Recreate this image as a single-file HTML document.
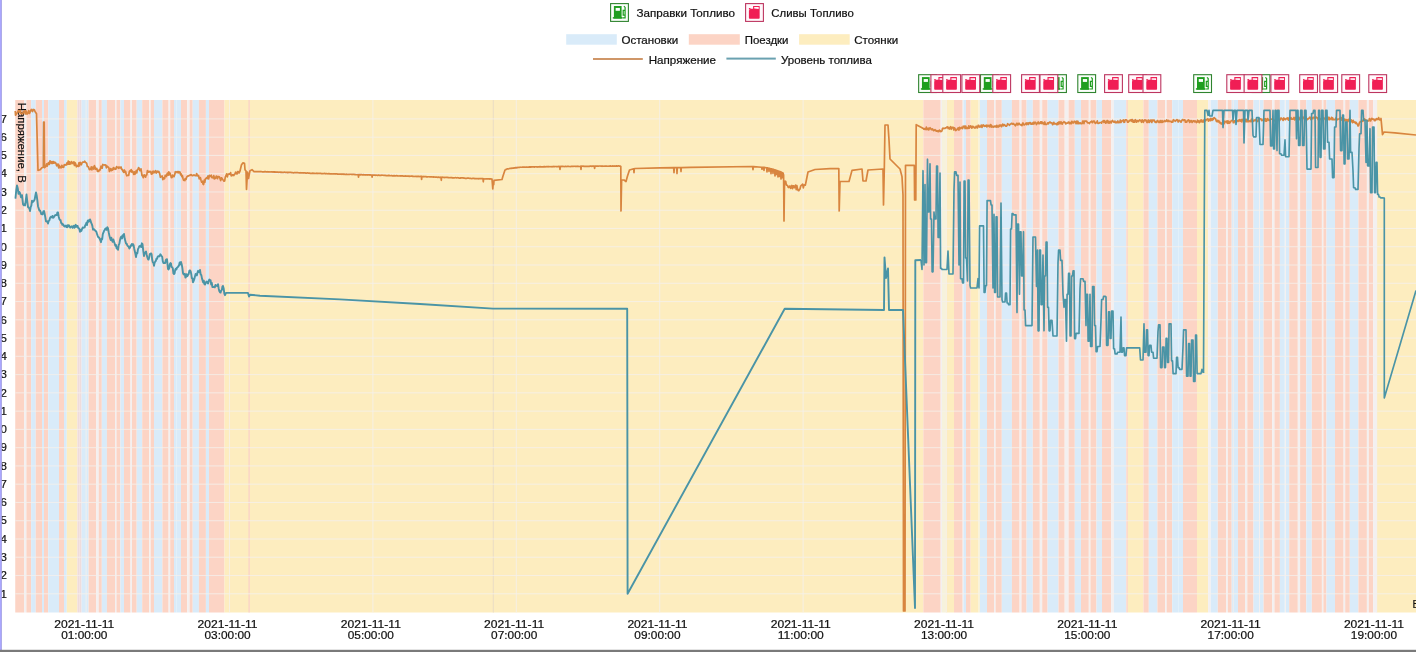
<!DOCTYPE html>
<html><head><meta charset="utf-8"><style>
html,body{margin:0;padding:0;background:#fff;width:1416px;height:652px;overflow:hidden;font-family:"Liberation Sans",sans-serif;}
svg{display:block;will-change:transform;}
text{font-family:"Liberation Sans",sans-serif;fill:#111;stroke:#111;stroke-width:0.2px;}
</style></head><body>
<svg width="1416" height="652" viewBox="0 0 1416 652" font-family="Liberation Sans, sans-serif" fill="#1a1a1a"><rect x="0" y="0" width="1416" height="652" fill="#ffffff"/>
<rect x="15.25" y="100" width="8.85" height="512.5" fill="#fcd4c5"/>
<rect x="24.1" y="100" width="2.3" height="512.5" fill="#f3f0f0"/>
<rect x="26.4" y="100" width="4.7" height="512.5" fill="#fcd4c5"/>
<rect x="31.1" y="100" width="4.65" height="512.5" fill="#d9ebf9"/>
<rect x="35.75" y="100" width="6.25" height="512.5" fill="#fcd4c5"/>
<rect x="42" y="100" width="2" height="512.5" fill="#d9ebf9"/>
<rect x="44" y="100" width="4.2" height="512.5" fill="#fcd4c5"/>
<rect x="48.2" y="100" width="10.8" height="512.5" fill="#d9ebf9"/>
<rect x="59" y="100" width="5" height="512.5" fill="#fcd4c5"/>
<rect x="64" y="100" width="2.8" height="512.5" fill="#d9ebf9"/>
<rect x="66.8" y="100" width="10.6" height="512.5" fill="#fdedbf"/>
<rect x="77.4" y="100" width="1.9" height="512.5" fill="#efdcdc"/>
<rect x="79.3" y="100" width="2.3" height="512.5" fill="#efdcdc"/>
<rect x="81.6" y="100" width="7" height="512.5" fill="#d9ebf9"/>
<rect x="88.6" y="100" width="7.7" height="512.5" fill="#fcd4c5"/>
<rect x="96.3" y="100" width="2.4" height="512.5" fill="#f3f0f0"/>
<rect x="98.7" y="100" width="3.1" height="512.5" fill="#fcd4c5"/>
<rect x="101.8" y="100" width="5.1" height="512.5" fill="#d9ebf9"/>
<rect x="106.9" y="100" width="8.1" height="512.5" fill="#fcd4c5"/>
<rect x="115" y="100" width="1.5" height="512.5" fill="#f3f0f0"/>
<rect x="116.5" y="100" width="3.9" height="512.5" fill="#fcd4c5"/>
<rect x="120.4" y="100" width="3.6" height="512.5" fill="#d9ebf9"/>
<rect x="124" y="100" width="6.5" height="512.5" fill="#fcd4c5"/>
<rect x="130.5" y="100" width="1.5" height="512.5" fill="#f3f0f0"/>
<rect x="132" y="100" width="4.7" height="512.5" fill="#fcd4c5"/>
<rect x="136.7" y="100" width="5.5" height="512.5" fill="#d9ebf9"/>
<rect x="142.2" y="100" width="7" height="512.5" fill="#fcd4c5"/>
<rect x="149.2" y="100" width="1.5" height="512.5" fill="#f3f0f0"/>
<rect x="150.7" y="100" width="3.3" height="512.5" fill="#fcd4c5"/>
<rect x="154" y="100" width="8.4" height="512.5" fill="#d9ebf9"/>
<rect x="162.4" y="100" width="6.2" height="512.5" fill="#fcd4c5"/>
<rect x="168.6" y="100" width="1.6" height="512.5" fill="#f3f0f0"/>
<rect x="170.2" y="100" width="3.8" height="512.5" fill="#fcd4c5"/>
<rect x="174" y="100" width="2.4" height="512.5" fill="#d9ebf9"/>
<rect x="176.4" y="100" width="4.6" height="512.5" fill="#d9ebf9"/>
<rect x="181" y="100" width="6.2" height="512.5" fill="#fcd4c5"/>
<rect x="187.2" y="100" width="2.4" height="512.5" fill="#f3f0f0"/>
<rect x="189.6" y="100" width="3.1" height="512.5" fill="#fcd4c5"/>
<rect x="192.7" y="100" width="6.2" height="512.5" fill="#d9ebf9"/>
<rect x="198.9" y="100" width="7" height="512.5" fill="#fcd4c5"/>
<rect x="205.9" y="100" width="3.1" height="512.5" fill="#d9ebf9"/>
<rect x="209" y="100" width="15.5" height="512.5" fill="#fcd4c5"/>
<rect x="224.5" y="100" width="698.8" height="512.5" fill="#fdedbf"/>
<rect x="923.3" y="100" width="17.4" height="512.5" fill="#fcd4c5"/>
<rect x="940.7" y="100" width="1.3" height="512.5" fill="#f3f0f0"/>
<rect x="942" y="100" width="3.8" height="512.5" fill="#f6f2dc"/>
<rect x="945.8" y="100" width="8.2" height="512.5" fill="#fdedbf"/>
<rect x="954" y="100" width="8.9" height="512.5" fill="#fcd4c5"/>
<rect x="962.4" y="100" width="1" height="512.5" fill="#f3f0f0"/>
<rect x="963.4" y="100" width="2.6" height="512.5" fill="#d9ebf9"/>
<rect x="966" y="100" width="4.7" height="512.5" fill="#fcd4c5"/>
<rect x="970.7" y="100" width="7.9" height="512.5" fill="#fdedbf"/>
<rect x="978.6" y="100" width="1.4" height="512.5" fill="#f6f2dc"/>
<rect x="980" y="100" width="7" height="512.5" fill="#d9ebf9"/>
<rect x="987" y="100" width="7" height="512.5" fill="#fcd4c5"/>
<rect x="994" y="100" width="1.6" height="512.5" fill="#f3f0f0"/>
<rect x="995.6" y="100" width="6.2" height="512.5" fill="#fcd4c5"/>
<rect x="1001.8" y="100" width="10.1" height="512.5" fill="#d9ebf9"/>
<rect x="1011.9" y="100" width="7.7" height="512.5" fill="#fcd4c5"/>
<rect x="1019.6" y="100" width="1.9" height="512.5" fill="#f3f0f0"/>
<rect x="1021.5" y="100" width="5.1" height="512.5" fill="#fcd4c5"/>
<rect x="1026.6" y="100" width="6.2" height="512.5" fill="#d9ebf9"/>
<rect x="1032.8" y="100" width="7" height="512.5" fill="#fcd4c5"/>
<rect x="1039.8" y="100" width="2.4" height="512.5" fill="#f3f0f0"/>
<rect x="1042.2" y="100" width="5.4" height="512.5" fill="#fcd4c5"/>
<rect x="1047.6" y="100" width="10.9" height="512.5" fill="#d9ebf9"/>
<rect x="1058.5" y="100" width="6.2" height="512.5" fill="#fcd4c5"/>
<rect x="1064.7" y="100" width="3.9" height="512.5" fill="#f3f0f0"/>
<rect x="1068.6" y="100" width="6.2" height="512.5" fill="#fcd4c5"/>
<rect x="1074.8" y="100" width="6.2" height="512.5" fill="#d9ebf9"/>
<rect x="1081" y="100" width="7.8" height="512.5" fill="#fcd4c5"/>
<rect x="1088.8" y="100" width="1.5" height="512.5" fill="#f3f0f0"/>
<rect x="1090.3" y="100" width="6.2" height="512.5" fill="#fcd4c5"/>
<rect x="1096.5" y="100" width="5.5" height="512.5" fill="#d9ebf9"/>
<rect x="1102" y="100" width="9.3" height="512.5" fill="#fcd4c5"/>
<rect x="1111.3" y="100" width="2.6" height="512.5" fill="#f3f0f0"/>
<rect x="1113.9" y="100" width="12.4" height="512.5" fill="#d9ebf9"/>
<rect x="1126.3" y="100" width="1.6" height="512.5" fill="#fcd4c5"/>
<rect x="1127.9" y="100" width="15.5" height="512.5" fill="#fdedbf"/>
<rect x="1143.4" y="100" width="5.4" height="512.5" fill="#fcd4c5"/>
<rect x="1148.8" y="100" width="8.6" height="512.5" fill="#d9ebf9"/>
<rect x="1157.4" y="100" width="7.8" height="512.5" fill="#fcd4c5"/>
<rect x="1165.2" y="100" width="1.5" height="512.5" fill="#f3f0f0"/>
<rect x="1166.7" y="100" width="5.5" height="512.5" fill="#fcd4c5"/>
<rect x="1172.2" y="100" width="3.8" height="512.5" fill="#d9ebf9"/>
<rect x="1176" y="100" width="2.4" height="512.5" fill="#d9ebf9"/>
<rect x="1178.4" y="100" width="4.6" height="512.5" fill="#d9ebf9"/>
<rect x="1183" y="100" width="14" height="512.5" fill="#fcd4c5"/>
<rect x="1197" y="100" width="11.1" height="512.5" fill="#fdedbf"/>
<rect x="1208.1" y="100" width="2.7" height="512.5" fill="#f3f0f0"/>
<rect x="1210.8" y="100" width="7" height="512.5" fill="#d9ebf9"/>
<rect x="1217.8" y="100" width="8.5" height="512.5" fill="#fcd4c5"/>
<rect x="1226.3" y="100" width="1.6" height="512.5" fill="#f3f0f0"/>
<rect x="1227.9" y="100" width="3.8" height="512.5" fill="#fcd4c5"/>
<rect x="1231.7" y="100" width="6.3" height="512.5" fill="#d9ebf9"/>
<rect x="1238" y="100" width="7" height="512.5" fill="#fcd4c5"/>
<rect x="1245" y="100" width="2.3" height="512.5" fill="#f3f0f0"/>
<rect x="1247.3" y="100" width="6.2" height="512.5" fill="#fcd4c5"/>
<rect x="1253.5" y="100" width="4.5" height="512.5" fill="#d9ebf9"/>
<rect x="1258" y="100" width="1" height="512.5" fill="#d9ebf9"/>
<rect x="1259" y="100" width="1" height="512.5" fill="#f3f0f0"/>
<rect x="1260" y="100" width="3.6" height="512.5" fill="#d9ebf9"/>
<rect x="1263.6" y="100" width="8.5" height="512.5" fill="#fcd4c5"/>
<rect x="1272.1" y="100" width="2.4" height="512.5" fill="#f3f0f0"/>
<rect x="1274.5" y="100" width="5.4" height="512.5" fill="#fcd4c5"/>
<rect x="1279.9" y="100" width="4.7" height="512.5" fill="#d9ebf9"/>
<rect x="1284.6" y="100" width="0.5" height="512.5" fill="#d9ebf9"/>
<rect x="1285.1" y="100" width="0.9" height="512.5" fill="#f3f0f0"/>
<rect x="1286" y="100" width="3.2" height="512.5" fill="#d9ebf9"/>
<rect x="1289.2" y="100" width="8.6" height="512.5" fill="#fcd4c5"/>
<rect x="1297.8" y="100" width="2.3" height="512.5" fill="#f3f0f0"/>
<rect x="1300.1" y="100" width="6.2" height="512.5" fill="#fcd4c5"/>
<rect x="1306.3" y="100" width="5.5" height="512.5" fill="#d9ebf9"/>
<rect x="1311.8" y="100" width="10.1" height="512.5" fill="#fcd4c5"/>
<rect x="1321.9" y="100" width="1.5" height="512.5" fill="#f3f0f0"/>
<rect x="1323.4" y="100" width="3.1" height="512.5" fill="#fcd4c5"/>
<rect x="1326.5" y="100" width="8.5" height="512.5" fill="#d9ebf9"/>
<rect x="1335" y="100" width="8.6" height="512.5" fill="#fcd4c5"/>
<rect x="1343.6" y="100" width="1.6" height="512.5" fill="#f3f0f0"/>
<rect x="1345.2" y="100" width="4.6" height="512.5" fill="#fcd4c5"/>
<rect x="1349.8" y="100" width="8.6" height="512.5" fill="#d9ebf9"/>
<rect x="1358.4" y="100" width="8.5" height="512.5" fill="#fcd4c5"/>
<rect x="1366.9" y="100" width="1.9" height="512.5" fill="#f3f0f0"/>
<rect x="1368.8" y="100" width="4.3" height="512.5" fill="#fcd4c5"/>
<rect x="1373.1" y="100" width="3.9" height="512.5" fill="#f3f0f0"/>
<rect x="1377" y="100" width="39" height="512.5" fill="#fdedbf"/>
<rect x="248.5" y="100" width="1.2" height="512.5" fill="#f9cfc8"/>
<rect x="492.8" y="100" width="1" height="512.5" fill="#eadcc4"/>
<rect x="15.25" y="593.22" width="1400.75" height="1.1" fill="#f4f0ec" fill-opacity="0.75"/>
<rect x="15.25" y="574.95" width="1400.75" height="1.1" fill="#f4f0ec" fill-opacity="0.75"/>
<rect x="15.25" y="556.69" width="1400.75" height="1.1" fill="#f4f0ec" fill-opacity="0.75"/>
<rect x="15.25" y="538.42" width="1400.75" height="1.1" fill="#f4f0ec" fill-opacity="0.75"/>
<rect x="15.25" y="520.16" width="1400.75" height="1.1" fill="#f4f0ec" fill-opacity="0.75"/>
<rect x="15.25" y="501.9" width="1400.75" height="1.1" fill="#f4f0ec" fill-opacity="0.75"/>
<rect x="15.25" y="483.63" width="1400.75" height="1.1" fill="#f4f0ec" fill-opacity="0.75"/>
<rect x="15.25" y="465.37" width="1400.75" height="1.1" fill="#f4f0ec" fill-opacity="0.75"/>
<rect x="15.25" y="447.1" width="1400.75" height="1.1" fill="#f4f0ec" fill-opacity="0.75"/>
<rect x="15.25" y="428.84" width="1400.75" height="1.1" fill="#f4f0ec" fill-opacity="0.75"/>
<rect x="15.25" y="410.58" width="1400.75" height="1.1" fill="#f4f0ec" fill-opacity="0.75"/>
<rect x="15.25" y="392.31" width="1400.75" height="1.1" fill="#f4f0ec" fill-opacity="0.75"/>
<rect x="15.25" y="374.05" width="1400.75" height="1.1" fill="#f4f0ec" fill-opacity="0.75"/>
<rect x="15.25" y="355.78" width="1400.75" height="1.1" fill="#f4f0ec" fill-opacity="0.75"/>
<rect x="15.25" y="337.52" width="1400.75" height="1.1" fill="#f4f0ec" fill-opacity="0.75"/>
<rect x="15.25" y="319.26" width="1400.75" height="1.1" fill="#f4f0ec" fill-opacity="0.75"/>
<rect x="15.25" y="300.99" width="1400.75" height="1.1" fill="#f4f0ec" fill-opacity="0.75"/>
<rect x="15.25" y="282.73" width="1400.75" height="1.1" fill="#f4f0ec" fill-opacity="0.75"/>
<rect x="15.25" y="264.46" width="1400.75" height="1.1" fill="#f4f0ec" fill-opacity="0.75"/>
<rect x="15.25" y="246.2" width="1400.75" height="1.1" fill="#f4f0ec" fill-opacity="0.75"/>
<rect x="15.25" y="227.94" width="1400.75" height="1.1" fill="#f4f0ec" fill-opacity="0.75"/>
<rect x="15.25" y="209.67" width="1400.75" height="1.1" fill="#f4f0ec" fill-opacity="0.75"/>
<rect x="15.25" y="191.41" width="1400.75" height="1.1" fill="#f4f0ec" fill-opacity="0.75"/>
<rect x="15.25" y="173.14" width="1400.75" height="1.1" fill="#f4f0ec" fill-opacity="0.75"/>
<rect x="15.25" y="154.88" width="1400.75" height="1.1" fill="#f4f0ec" fill-opacity="0.75"/>
<rect x="15.25" y="136.62" width="1400.75" height="1.1" fill="#f4f0ec" fill-opacity="0.75"/>
<rect x="15.25" y="118.35" width="1400.75" height="1.1" fill="#f4f0ec" fill-opacity="0.75"/>
<rect x="85.55" y="100" width="1.1" height="512.5" fill="#f4f0ec" fill-opacity="0.75"/>
<rect x="228.95" y="100" width="1.1" height="512.5" fill="#f4f0ec" fill-opacity="0.75"/>
<rect x="372.35" y="100" width="1.1" height="512.5" fill="#f4f0ec" fill-opacity="0.75"/>
<rect x="515.75" y="100" width="1.1" height="512.5" fill="#f4f0ec" fill-opacity="0.75"/>
<rect x="659.15" y="100" width="1.1" height="512.5" fill="#f4f0ec" fill-opacity="0.75"/>
<rect x="802.55" y="100" width="1.1" height="512.5" fill="#f4f0ec" fill-opacity="0.75"/>
<rect x="945.95" y="100" width="1.1" height="512.5" fill="#f4f0ec" fill-opacity="0.75"/>
<rect x="1089.35" y="100" width="1.1" height="512.5" fill="#f4f0ec" fill-opacity="0.75"/>
<rect x="1232.75" y="100" width="1.1" height="512.5" fill="#f4f0ec" fill-opacity="0.75"/>
<rect x="1376.15" y="100" width="1.1" height="512.5" fill="#f4f0ec" fill-opacity="0.75"/>
<text transform="translate(18.3,102.8) rotate(90)" x="0" y="0" font-size="10.5" textLength="80" lengthAdjust="spacingAndGlyphs">Напряжение, В</text>
<polyline points="15.25,111 15.5,115.2 17,113 17.67,111.93 18.33,110.53 19,111.7 19.62,112.43 20.25,110.28 20.88,113.56 21.5,113.65 22.12,113.74 22.75,113.83 23.38,111.67 24,112.4 24.67,110.8 25.33,114 26,110.8 26.67,114 27.33,114 28,112.4 28.67,110.53 29.33,113.47 30,112.24 30.67,110.69 31.33,109.47 32,110.8 32.6,111.58 33.2,109.48 33.8,109.62 34.4,109.76 35,111.5 36.5,113.8 38,170.4 40,169.8 42,167.7 43.3,167 43.6,122 44.2,122 44.5,167.7 46,166.3 46.67,163.77 47.33,166.03 48,163.5 48.67,162.53 49.33,164.43 50,160.9 50.67,161.53 51.33,163.43 52,161.5 52.67,163.43 53.33,161.53 54,163.14 54.67,162.19 55.33,162.53 56,163.5 56.67,165.8 57.33,165.54 58,164 58.67,167.9 59.33,165.4 60,167.7 60.6,166.78 61.2,167.78 61.8,165.26 62.4,167.22 63,166.3 63.67,167.32 64.33,164.49 65,165.19 65.67,164.61 66.33,164.98 67,162.8 67.62,164.33 68.25,161.05 68.88,164.17 69.5,161.86 70.12,164.03 70.75,163.95 71.38,161.63 72,162.2 72.62,163.26 73.25,163.69 73.88,161.88 74.5,165.5 75.12,162.72 75.75,164.11 76.38,166.77 77,165.6 77.62,165.89 78.25,166.5 78.88,162.95 79.5,165.8 80.12,162.25 80.75,164.14 81.38,164.75 82,162.8 82.67,162.16 83.33,162.16 84,162.16 84.67,161.2 85.33,162.16 86,162.8 86.67,163.19 87.33,166.47 88,166.54 88.67,167.57 89.33,169.57 90,169 90.62,169.39 91.25,166.9 91.88,169.85 92.5,167.36 93.12,167.11 93.75,169.1 94.38,165.65 95,167 95.6,169.28 96.2,169 96.8,168.4 97.4,171.32 98,170.4 98.6,171.46 99.2,169.96 99.8,170.38 100.4,168.88 101,166.1 101.6,167.8 102.2,168.22 102.8,164.48 103.4,164.9 104,165 104.6,164.9 105.2,165.44 105.8,165.02 106.4,167.8 107,166.1 107.6,166.64 108.2,167.18 108.8,167.72 109.4,171.46 110,170.4 110.67,168.57 111.33,170.57 112,169.06 112.67,170.11 113.33,167.63 114,169 114.64,168.18 115.27,169.28 115.91,169.09 116.55,166.67 117.18,167.45 117.82,167.27 118.45,168.37 119.09,166.91 119.73,168 120.36,167.82 121,167 121.67,169.52 122.33,169.47 123,171.35 123.67,172.27 124.33,169.98 125,172.5 125.6,171.46 126.2,174.26 126.8,175.78 127.4,175.38 128,175.3 128.67,175.37 129.33,171.59 130,170.7 130.6,171.6 131.2,169.62 131.8,172.12 132.4,171.1 133,172 133.67,174.37 134.33,171.93 135,174.3 135.6,172.66 136.2,170.7 136.8,172.9 137.4,169.66 138,169.3 138.6,167.6 139.2,168.46 139.8,170.6 140.4,170.5 141,168.8 142,175.7 142.6,175.24 143.2,177.66 143.8,175.6 144.4,174.82 145,176.6 145.6,177.1 146.2,175.04 146.8,174.9 147.4,170.6 148,171.1 148.67,172.21 149.33,171.39 150,171.86 150.67,171.37 151.33,174.07 152,173.9 152.6,171.74 153.2,171.18 153.8,172.86 154.4,172.3 155,171.1 155.6,170.64 156.2,173.06 156.8,172.28 157.4,171.18 158,172 158.6,171.32 159.2,172.24 159.8,174.12 160.4,177.28 161,176.6 161.6,176.42 162.2,175.92 162.8,179.58 163.4,177.8 164,178.9 164.6,178.54 165.2,175.3 165.8,175.26 166.4,176.5 167,173.9 167.6,173.08 168.2,175.14 168.8,171.76 169.4,174.78 170,173 170.67,175.14 171.33,177.6 172,177.5 172.67,175.07 173.33,176.47 174,176.6 174.67,174.81 175.33,171.73 176,172.5 176.67,171.78 177.33,171.69 178,172.89 178.67,171.53 179.33,172.72 180,172 180.6,174.9 181.2,173.96 181.8,176.54 182.4,175.6 183,178.5 183.6,180.28 184.2,179.5 184.8,180.64 185.4,178.58 186,179.4 186.67,177.12 187.33,176.43 188,175.75 188.67,176.03 189.33,175.34 190,175.3 190.67,174.58 191.33,174.49 192,175.69 192.67,175.61 193.33,175.52 194,174.8 194.67,175.52 195.33,175.61 196,175.69 196.67,173.53 197.33,175.86 198,175.3 198.6,175.66 199.2,178.9 199.8,177.66 200.4,177.7 201,180.3 201.67,182.17 202.33,181.17 203,184 203.6,184.5 204.2,180.2 204.8,182.3 205.4,178.96 206,178.5 206.67,177.54 207.33,178.51 208,175.95 208.67,178.83 209.33,175.32 210,176.6 210.62,176.07 211.25,175.22 211.88,177.58 212.5,177.69 213.12,177.8 213.75,175.68 214.38,178.99 215,177.5 215.62,178.26 216.25,176.15 216.88,176.28 217.5,178.64 218.12,176.53 218.75,176.65 219.38,176.78 220,178.5 220.67,180.55 221.33,177.8 222,178.25 222.67,179.66 223.33,180.11 224,181.2 224.67,180.97 225.33,176.89 226,175.7 226.67,173.87 227.33,176.83 228,174.36 228.67,174.13 229.33,173.89 230,174.3 230.62,172.65 231.25,175.8 231.88,175.75 232.5,174.74 233.12,174.69 233.75,175.6 234.38,174.59 235,173.9 235.67,172.15 236.33,172.96 237,174.09 237.67,171.7 238.33,171.55 239,173 240,171 241.5,164.7 243,162.9 244.5,163.3 245,169.7 246,171 246.5,189.5 247.5,172 248.5,178.5 250,170.7 252,169.7 254,171.6 260,171.6 260.6,171.47 261.2,171.7 261.8,171.72 262.41,171.83 263.01,171.84 263.61,171.77 264.21,171.88 264.81,171.6 265.41,171.62 266.02,171.85 266.62,171.96 267.22,171.68 267.82,171.9 268.42,171.8 269.02,172.03 269.62,171.96 270.23,171.98 270.83,171.88 271.43,171.9 272.03,172.04 272.63,171.93 273.23,171.95 273.83,172.09 274.44,171.9 275.04,172.13 275.64,171.94 276.24,172.26 276.84,171.98 277.44,172.21 278.05,172.1 278.65,172.33 279.25,172.26 279.85,172.07 280.45,172.3 281.05,172.2 281.65,172.34 282.26,172.36 282.86,172.25 283.46,172.39 284.06,172.2 284.66,172.22 285.26,172.33 285.86,172.35 286.47,172.28 287.07,172.39 287.67,172.61 288.27,172.33 288.87,172.56 289.47,172.37 290.08,172.39 290.68,172.41 291.28,172.43 291.88,172.66 292.48,172.68 293.08,172.78 293.68,172.8 294.29,172.61 294.89,172.54 295.49,172.77 296.09,172.58 296.69,172.69 297.29,172.71 297.89,172.72 298.5,172.74 299.1,172.88 299.7,172.9 300.3,172.71 300.9,172.94 301.5,172.84 302.11,172.86 302.71,172.87 303.31,172.8 303.91,173.03 304.51,172.93 305.11,172.95 305.71,173.09 306.32,173.2 306.92,173.01 307.52,172.93 308.12,173.04 308.72,173.18 309.32,172.99 309.92,173.31 310.53,173.33 311.13,173.26 311.73,173.37 312.33,173.39 312.93,173.1 313.53,173.42 314.14,173.35 314.74,173.25 315.34,173.39 315.94,173.5 316.54,173.22 317.14,173.54 317.74,173.25 318.35,173.27 318.95,173.5 319.55,173.4 320.15,173.42 320.75,173.44 321.35,173.58 321.95,173.6 322.56,173.7 323.16,173.72 323.76,173.53 324.36,173.46 324.96,173.57 325.56,173.8 326.17,173.52 326.77,173.63 327.37,173.77 327.97,173.87 328.57,173.68 329.17,173.7 329.77,173.84 330.38,173.95 330.98,173.97 331.58,173.78 332.18,174.01 332.78,173.93 333.38,173.95 333.98,173.85 334.59,173.78 335.19,173.8 335.79,174.03 336.39,173.93 336.99,173.95 337.59,174.08 338.2,174.1 338.8,174.12 339.4,174.14 340,174.1 340.6,174.06 341.2,174.29 341.8,174 342.41,174.02 343.01,174.34 343.61,174.15 344.21,174.17 344.81,174.3 345.41,174.41 346.02,174.22 346.62,174.15 347.22,174.47 347.82,174.48 348.42,174.41 349.02,174.52 349.62,174.33 350.23,174.26 350.83,174.27 351.43,174.5 352.03,174.31 352.63,174.54 353.23,174.35 353.83,174.46 354.44,174.38 355.04,174.7 355.64,174.51 356.24,174.74 356.84,174.76 357.44,174.77 358.05,174.58 358.2,174.69 358.5,177.19 358.8,174.69 358.65,174.72 359.25,174.83 359.85,174.64 360.45,174.86 361.05,174.67 361.65,174.6 362.26,174.92 362.86,174.94 363.46,174.65 364.06,174.88 364.66,174.9 365.26,174.8 365.86,175.03 366.47,174.74 367.07,174.85 367.67,175.08 368.27,174.8 368.87,174.82 369.47,174.92 370.08,175.06 370.68,174.96 371.28,174.98 371.88,175.12 371.8,175.08 372.1,177.08 372.4,175.08 372.48,175.01 373.08,175.03 373.68,175.17 374.29,175.19 374.89,175.21 375.49,175.31 376.09,175.12 376.69,175.26 377.29,175.37 377.89,175.39 378.5,175.1 379.1,175.21 379.7,175.44 380.3,175.25 380.9,175.39 381.5,175.2 382.11,175.21 382.71,175.23 383.31,175.25 383.91,175.48 384.51,175.38 385.11,175.3 385.71,175.53 386.32,175.55 386.92,175.66 387.52,175.59 388.12,175.6 388.72,175.41 389.32,175.43 389.92,175.75 390.53,175.77 391.13,175.69 391.73,175.71 392.33,175.82 392.93,175.75 393.53,175.86 394.14,175.57 394.74,175.89 395.34,175.91 395.94,175.72 396.54,175.65 397.14,175.87 397.74,175.77 398.35,176 398.95,176.02 399.55,175.95 400.15,175.84 400.75,176.07 401.35,175.88 401.95,176.02 402.56,175.83 403.16,176.14 403.76,176.16 404.36,176.18 404.96,176.11 405.56,175.92 406.17,176.23 406.77,176.04 407.37,176.18 407.97,175.99 408.57,176.31 409.17,176.12 409.77,176.34 410.38,176.27 410.98,176.17 411.58,176.1 412.18,176.12 412.78,176.34 413.38,176.36 413.98,176.47 414.59,176.4 415.19,176.3 415.79,176.52 416.39,176.45 416.99,176.56 417.59,176.37 418.2,176.6 418.8,176.31 419.4,176.54 420,176.5 420.6,176.37 421.2,176.69 421.3,176.51 421.6,179.51 421.9,176.51 421.8,176.42 422.4,176.65 423,176.46 423.6,176.78 424.2,176.5 424.8,176.62 425.4,176.64 426,176.57 426.6,176.89 427.2,176.82 427.8,176.85 428.4,176.75 429,176.77 429.6,176.79 430.2,176.93 430.8,176.96 431.4,176.77 432,176.79 432.6,177.02 433.2,177.13 433.8,176.86 434.4,176.97 435,177.11 435.6,177.13 436.2,177.15 436.8,177.06 437.4,177.29 438,177.31 438.6,177.12 439.2,177.35 439.8,177.29 440.4,177.31 441,177.21 441,177.28 441.3,180.28 441.6,177.28 441.6,177.35 442.2,177.25 442.8,177.19 443.4,177.51 444,177.44 444.6,177.55 445.2,177.36 445.8,177.51 446.4,177.41 447,177.34 447.6,177.45 448.2,177.68 448.8,177.5 449.4,177.64 450,177.75 450.6,177.56 451.2,177.58 451.8,177.61 452.4,177.84 453,177.77 453.6,177.79 454.2,177.9 454.8,177.72 455.4,177.65 456,177.76 456.6,177.9 457.2,177.71 457.8,177.74 458.4,177.85 459,178.08 459.6,178.01 460.2,178.12 460.8,177.85 461.4,177.96 462,177.89 462.6,177.91 463.2,177.93 463.8,178.05 464.4,177.98 465,178.3 465.6,178.32 466.2,178.25 466.8,178.28 467.4,178.09 468,178.2 468.6,178.13 469.2,178.24 469.8,178.48 470.4,178.29 471,178.52 471.6,178.54 472.2,178.56 472.8,178.38 473.4,178.4 474,178.42 474.6,178.56 475.2,178.67 475.8,178.7 476.4,178.51 477,178.74 477.6,178.67 478.2,178.69 478.8,178.81 479.4,178.53 480,178.7 480.6,178.65 481.2,178.58 481.8,178.59 482.4,178.61 483,178.62 483,178.78 483.3,181.78 483.6,178.78 483.6,178.94 484.2,178.87 484.8,178.97 485.4,178.89 486,178.79 486.6,179.02 487.2,178.82 487.8,178.83 488.4,178.76 489,178.78 489.6,179.09 490.2,178.89 490.8,178.82 491.4,179.14 492,179 492.8,189 493.1,184.65 493.4,184.65 493.7,184.65 494,180.3 502,179.5 503,176 505,170 505.67,169.73 506.33,169.27 507,169 507.62,168.76 508.24,168.98 508.86,168.8 509.48,168.51 510.1,168.42 510.71,168.34 511.33,168.34 511.95,168.16 512.57,168.29 513.19,167.99 513.81,168.21 514.43,167.82 515.05,167.83 515.67,167.65 516.29,167.86 516.9,167.57 517.52,167.6 518.14,167.4 518.76,167.52 519.38,167.44 520,167.2 520.61,167.25 521.21,167.24 521.82,167.23 522.42,167.1 523.03,167.09 523.64,166.99 524.24,167.07 524.85,167.18 525.45,167.25 526.06,166.94 526.67,167.14 527.27,167.22 527.88,167 528.48,167.2 529.09,166.89 529.7,167.09 530.3,166.87 530.91,167.07 531.52,166.94 532.12,166.84 532.73,166.92 533.33,166.82 533.94,166.9 534.55,167.1 535.15,166.78 535.76,166.77 536.36,166.76 536.97,167.05 537.58,166.95 538.18,166.73 538.79,166.93 539.39,166.71 540,166.79 540.61,166.69 541.21,166.98 541.82,166.76 542.42,166.96 543.03,166.95 543.64,166.64 544.24,166.84 544.85,166.62 545.45,166.81 546.06,166.8 546.67,166.58 547.27,166.78 547.88,166.56 548.48,166.85 549.09,166.54 549.7,166.74 550.3,166.73 550.91,166.6 551.52,166.71 552.12,166.79 552.73,166.48 553.33,166.68 553.94,166.46 554.55,166.75 555.15,166.52 555.76,166.51 556.36,166.62 556.97,166.61 557.58,166.69 558.18,166.68 558.79,166.37 559.39,166.45 560,166.5 559.7,166.5 560,169.5 560.3,166.5 560.6,166.65 561.2,166.34 561.8,166.55 562.4,166.42 563,166.41 563.6,166.53 564.2,166.62 564.8,166.52 565.4,166.31 566,166.6 566.6,166.5 567.2,166.38 567.8,166.28 568.4,166.28 569,166.49 569.6,166.48 570.2,166.56 570.8,166.47 571.4,166.47 572,166.46 572.6,166.46 573.2,166.45 573.8,166.23 574.4,166.23 575,166.31 575.6,166.43 576.2,166.43 576.8,166.42 577.4,166.2 578,166.5 578.6,166.41 579.2,166.49 579.8,166.49 580.4,166.39 581,166.47 580.7,166.47 581,169.47 581.3,166.47 581.6,166.17 582.2,166.16 582.8,166.25 583.4,166.16 584,166.45 584.6,166.35 585.2,166.23 585.8,166.34 586.4,166.34 587,166.34 587.6,166.42 588.2,166.32 588.8,166.41 589.4,166.31 590,166.19 590.6,166.09 591.2,166.18 591.8,166.3 592.4,166.17 593,166.16 593.6,166.07 594.2,166.16 594.3,166.29 594.6,168.29 594.9,166.29 594.8,166.36 595.4,166.06 596,166.05 596.6,166.25 597.2,166.04 597.8,166.12 598.4,166.24 599,166.03 599.6,166.02 600.2,166.01 600.8,166.1 601.4,166.09 602,166.3 602.6,166 603.2,166.2 603.8,166.28 604.4,166.19 605,166.06 605.6,166.06 606.2,166.27 606.8,166.05 607.4,166.25 608,166.25 608.6,166.16 609.2,166.03 609.8,166.24 610.4,165.93 611,166.13 611.6,166.22 612.2,166 612.8,165.91 613.4,166.21 614,166.2 614.6,165.89 615.2,166.19 615.8,166.19 616.4,165.88 617,166.09 617.6,166.17 618.2,165.86 618.8,165.95 619.4,166.06 620,166 620.8,166.5 621,211 621.6,180 624,180 626,181.5 627.5,176 629.5,170 633.7,168.77 634,172.77 634.3,168.77 635,168.5 660,167.8 673.7,167.61 674,172.61 674.3,167.61 676.7,167.58 677,173.58 677.3,167.58 680.7,167.53 681,171.53 681.3,167.53 690,167.4 752,166.5 752.7,166.58 753,169.58 753.3,166.58 761.7,167.26 762,169.26 762.3,167.26 763.7,167.41 764,170.41 764.3,167.41 765,167.5 766.7,167.93 767,171.93 767.3,167.93 768.7,168.32 769,171.32 769.3,168.32 770.7,168.75 771,173.75 771.3,168.75 772,169 772.7,169.33 773,173.33 773.3,169.33 774.7,169.94 775,175.94 775.3,169.94 776.2,170.41 776.5,174.41 776.8,170.41 778,171 777.7,171 778,177 778.3,171 779.2,171.51 779.5,176.51 779.8,171.51 780.7,172.07 781,179.07 781.3,172.07 782.2,172.73 782.5,177.73 782.8,172.73 783,173 783.6,175 784,221 784.5,183 785.11,181.13 785.72,181.47 786.33,184.88 786.94,185.21 787.56,185.55 788.17,187.2 788.78,187.53 789.39,186.55 790,186 790.62,188.32 791.25,187.13 791.88,185.5 792.5,188.7 793.12,185.75 793.75,185.87 794.38,187.75 795,187 795.62,185.05 796.25,189.7 796.88,185.55 797.5,188.88 798.12,190.45 798.75,190.7 799.38,189.63 800,189 800.67,186.13 801.33,185.47 802,184.8 802.67,184.13 803.33,187.87 804,185 804.67,184.88 805.33,185.2 806,182 808,172 815,169.5 830,168.6 838.8,168.6 839.2,211 840,181.5 849,181.5 852,170.4 862,169 863,181 866,181 868,170 883,169 883.5,205 884.3,169 885,125 888,125 889,140 890,159 895,164 900,169 902,176.6 903,195 903.5,611 905,611 905.5,165.4 914.3,165.4 914.6,200 915.8,200 916.2,124.7 922,127.7 922.62,128.28 923.24,128.37 923.86,129.19 924.48,128.56 925.1,129.38 925.71,129.47 926.33,127.17 926.95,129.66 927.57,129.04 928.19,128.17 928.81,129.95 929.43,128.36 930.05,127.74 930.67,128.55 931.29,129.61 931.9,129.7 932.52,128.84 933.14,129.89 933.76,130.71 934.38,130.08 935,129.7 935.62,130.3 936.25,131.15 936.88,130.55 937.5,131.4 938.12,130.8 938.75,131.65 939.38,130.09 940,130.7 940.62,131.62 941.25,131.35 941.88,131.07 942.5,128.4 943.12,128.12 943.75,128.57 944.38,128.3 945,128.5 945.62,127.92 946.25,127.82 946.88,127 947.5,126.9 948.12,128.48 948.75,127.42 949.38,129 950,127.7 950.64,126.68 951.27,129.26 951.91,127.77 952.55,127.23 953.18,127.41 953.82,129.99 954.45,127.77 955.09,128.67 955.73,130.54 956.36,130 957,129.7 957.62,128.22 958.25,127.95 958.88,130.07 959.5,127.4 960.12,128.8 960.75,128.53 961.38,127.3 962,127.5 962.62,128.66 963.23,126.22 963.85,126.9 964.46,126.15 965.08,128.51 965.69,126.07 966.31,128.43 966.92,127.67 967.54,128.35 968.15,128.32 968.77,125.88 969.38,128.24 970,127 970.62,125.77 971.25,126.46 971.88,128.11 972.5,126.39 973.12,126.36 973.75,127.29 974.38,127.98 975,127.23 975.62,127.92 976.25,126.21 976.88,127.14 977.5,127.83 978.12,125.39 978.75,125.36 979.38,127.01 980,126.5 980.62,126.88 981.25,125.1 981.88,127.4 982.5,126.58 983.12,124.8 983.75,125.42 984.38,126.28 985,125.7 985.62,126.2 986.25,125.26 986.88,126.96 987.5,125.3 988.12,125.31 988.75,126.29 989.38,125.35 990,127.05 990.62,124.67 991.25,125.41 991.88,127.11 992.5,126.41 993.12,126.42 993.75,127.16 994.38,126.46 995,126 995.6,126.43 996.2,127.1 996.8,125.36 997.4,126.99 998,126.22 998.6,126.89 999.2,125.16 999.8,126.06 1000.4,125.05 1001,125 1001.6,126.63 1002.2,124.9 1002.8,124.12 1003.4,125.75 1004,124.74 1004.6,124.69 1005.2,125.6 1005.8,126.26 1006.4,126.21 1007,125.44 1007.6,123.71 1008.2,124.38 1008.8,124.32 1009.4,125.23 1010,124.7 1010.6,124.2 1011.2,123.47 1011.8,123.45 1012.4,124.16 1013,123.42 1013.6,124.12 1014.2,124.11 1014.8,125.05 1015.4,125.76 1016,125.02 1016.6,123.32 1017.2,123.31 1017.8,124.97 1018.4,124 1019,123.26 1019.6,123.96 1020.2,124.91 1020.8,124.89 1021.4,124.88 1022,125.58 1022.6,123.16 1023.2,123.15 1023.8,124.81 1024.4,124.8 1025,124.3 1025.6,123.77 1026.2,123 1026.8,124.62 1027.4,123.61 1028,122.84 1028.6,124.47 1029.2,122.74 1029.8,122.68 1030.4,122.63 1031,124.26 1031.6,124.21 1032.2,123.2 1032.8,124.1 1033.4,122.37 1034,124 1034.6,122.27 1035.2,122.22 1035.8,122.88 1036.4,124.51 1037,123.74 1037.6,122.73 1038.2,121.96 1038.8,123.58 1039.4,123.53 1040,123 1040.6,121.82 1041.2,123.52 1041.8,121.86 1042.4,123.56 1043,122.62 1043.6,123.6 1044.2,124.34 1044.8,121.96 1045.4,124.38 1046,124.4 1046.6,124.42 1047.2,123.72 1047.8,122.78 1048.4,123.76 1049,122.82 1049.6,122.12 1050.2,122.14 1050.8,122.88 1051.4,122.9 1052,122.92 1052.6,124.62 1053.2,123.92 1053.8,122.26 1054.4,123.96 1055,123.5 1055.6,123.94 1056.2,123.9 1056.8,124.58 1057.4,122.86 1058,124.5 1058.6,122.06 1059.2,123.7 1059.8,121.98 1060.4,123.62 1061,121.9 1061.6,123.54 1062.2,124.22 1062.8,122.5 1063.4,122.46 1064,121.7 1064.6,122.38 1065.2,122.34 1065.8,123.98 1066.4,123.22 1067,123.18 1067.6,123.14 1068.2,122.14 1068.8,122.1 1069.4,123.74 1070,122.5 1070.61,123.69 1071.21,123.69 1071.82,121.28 1072.42,122 1073.03,122.95 1073.64,122.94 1074.24,121.26 1074.85,121.25 1075.45,121.97 1076.06,123.64 1076.67,121.23 1077.27,123.63 1077.88,121.22 1078.48,123.62 1079.09,123.61 1079.7,122.88 1080.3,122.88 1080.91,123.59 1081.52,123.58 1082.12,123.58 1082.73,121.17 1083.33,121.17 1083.94,123.56 1084.55,121.15 1085.15,121.15 1085.76,121.14 1086.36,121.14 1086.97,121.85 1087.58,122.8 1088.18,122.8 1088.79,122.79 1089.39,123.51 1090,122.3 1090.61,121.8 1091.21,121.79 1091.82,121.05 1092.42,122.72 1093.03,121.74 1093.64,121.01 1094.24,120.99 1094.85,122.66 1095.45,123.36 1096.06,122.63 1096.67,122.61 1097.27,120.92 1097.88,123.3 1098.48,123.29 1099.09,123.27 1099.7,122.54 1100.3,122.52 1100.91,122.51 1101.52,123.21 1102.12,121.52 1102.73,121.5 1103.33,120.77 1103.94,122.43 1104.55,120.74 1105.15,121.44 1105.76,123.11 1106.36,122.37 1106.97,120.68 1107.58,120.66 1108.18,123.05 1108.79,121.35 1109.39,123.02 1110,121.8 1110.61,121.29 1111.21,122.94 1111.82,121.23 1112.42,120.48 1113.03,121.17 1113.64,122.1 1114.24,122.07 1114.85,121.08 1115.45,122.73 1116.06,122.7 1116.67,121.95 1117.27,122.64 1117.88,120.93 1118.48,122.58 1119.09,122.55 1119.7,122.52 1120.3,120.08 1120.91,122.45 1121.52,121.7 1122.12,120.71 1122.73,120.68 1123.33,119.93 1123.94,122.3 1124.55,122.27 1125.15,119.84 1125.76,119.81 1126.36,119.78 1126.97,120.47 1127.58,122.12 1128.18,122.09 1128.79,121.34 1129.39,120.35 1130,120.8 1130.61,120.34 1131.21,119.63 1131.82,121.33 1132.42,119.66 1133.03,122.08 1133.64,122.09 1134.24,120.43 1134.85,122.12 1135.45,119.74 1136.06,120.47 1136.67,122.17 1137.27,120.5 1137.88,120.52 1138.48,121.49 1139.09,120.55 1139.7,119.84 1140.3,120.58 1140.91,120.59 1141.52,122.29 1142.12,119.9 1142.73,120.64 1143.33,122.33 1143.94,120.67 1144.55,119.96 1145.15,120.7 1145.76,119.99 1146.36,120.73 1146.97,122.42 1147.58,122.44 1148.18,120.05 1148.79,120.07 1149.39,122.48 1150,121.3 1150.6,120.09 1151.2,120.08 1151.8,122.47 1152.4,120.06 1153,120.77 1153.6,120.04 1154.2,120.03 1154.8,121.7 1155.4,122.41 1156,121.68 1156.6,122.39 1157.2,120.7 1157.8,120.69 1158.4,121.64 1159,122.35 1159.6,122.34 1160.2,120.65 1160.8,122.32 1161.4,122.31 1162,120.62 1162.6,122.29 1163.2,121.56 1163.8,121.55 1164.4,120.58 1165,121.53 1165.6,121.52 1166.2,120.55 1166.8,119.82 1167.4,121.49 1168,121.48 1168.6,120.51 1169.2,121.46 1169.8,121.45 1170.4,121.44 1171,121.43 1171.6,122.14 1172.2,121.41 1172.8,122.12 1173.4,119.71 1174,120.42 1174.6,120.41 1175.2,121.36 1175.8,120.39 1176.4,120.38 1177,119.65 1177.6,120.36 1178.2,122.03 1178.8,120.34 1179.4,120.33 1180,120.8 1180.61,122.02 1181.21,122.04 1181.82,120.38 1182.42,119.68 1183.03,119.71 1183.64,120.45 1184.24,119.75 1184.85,119.77 1185.45,122.19 1186.06,122.21 1186.67,122.23 1187.27,120.57 1187.88,120.6 1188.48,119.9 1189.09,120.64 1189.7,122.34 1190.3,120.68 1190.91,121.66 1191.52,120.72 1192.12,122.42 1192.73,121.73 1193.33,120.79 1193.94,120.81 1194.55,121.79 1195.15,120.85 1195.76,121.83 1196.36,122.57 1196.97,121.87 1197.58,120.22 1198.18,121.92 1198.79,120.98 1199.39,122.68 1200,121.5 1200.6,120.19 1201.2,121.76 1201.8,119.96 1202.4,121.53 1203,122.14 1203.6,121.31 1204.2,119.52 1204.8,119.4 1205.4,120.97 1206,119.9 1206.6,119.79 1207.2,118.96 1207.8,118.84 1208.4,121.13 1209,119.34 1209.6,119.23 1210.2,120.8 1210.8,118.28 1211.4,118.89 1212,120.46 1212.6,118.67 1213.2,119.52 1213.8,117.72 1214.4,117.61 1215,118.7 1215.62,118.76 1216.25,120.98 1216.88,121.51 1217.5,120.37 1218.12,121.87 1218.75,120.72 1219.38,121.98 1220,123 1220.61,122.45 1221.21,124.06 1221.82,123.27 1222.42,123.92 1223.03,123.85 1223.64,123.06 1224.24,123.71 1224.85,121.24 1225.45,121.89 1226.06,121.82 1226.67,121.03 1227.27,123.36 1227.88,120.89 1228.48,123.22 1229.09,121.47 1229.7,123.08 1230.3,122.3 1230.91,121.27 1231.52,120.48 1232.12,120.41 1232.73,120.34 1233.33,122.67 1233.94,122.6 1234.55,120.85 1235.15,120.78 1235.76,120.71 1236.36,122.32 1236.97,121.53 1237.58,120.5 1238.18,120.43 1238.79,121.32 1239.39,119.57 1240,120.7 1240.6,121.16 1241.2,119.46 1241.8,121.85 1242.4,119.43 1243,120.13 1243.6,120.11 1244.2,121.05 1244.8,121.76 1245.4,119.34 1246,119.32 1246.6,121.7 1247.2,119.28 1247.8,121.67 1248.4,120.93 1249,121.63 1249.6,120.89 1250.2,120.87 1250.8,121.58 1251.4,119.16 1252,121.54 1252.6,119.12 1253.2,121.5 1253.8,120.77 1254.4,120.75 1255,119.77 1255.6,120.71 1256.2,119.01 1256.8,120.68 1257.4,121.38 1258,121.36 1258.6,118.94 1259.2,118.92 1259.8,118.91 1260.4,118.89 1261,118.87 1261.6,120.53 1262.2,120.51 1262.8,120.5 1263.4,118.8 1264,120.46 1264.6,118.76 1265.2,121.14 1265.8,118.73 1266.4,121.11 1267,120.37 1267.6,118.67 1268.2,119.37 1268.8,120.32 1269.4,120.3 1270,119.8 1270.6,119.29 1271.2,119.26 1271.8,119.24 1272.4,118.49 1273,120.86 1273.6,120.11 1274.2,120.8 1274.8,120.06 1275.4,120.03 1276,120 1276.6,119.97 1277.2,118.26 1277.8,118.24 1278.4,118.93 1279,119.86 1279.6,120.55 1280.2,119.8 1280.8,118.1 1281.4,118.07 1282,118.76 1282.6,119.69 1283.2,120.38 1283.8,117.96 1284.4,118.65 1285,119.58 1285.6,119.55 1286.2,118.56 1286.8,118.54 1287.4,117.79 1288,119.44 1288.6,120.13 1289.2,117.7 1289.8,119.36 1290.4,118.37 1291,117.62 1291.6,119.27 1292.2,119.24 1292.8,119.22 1293.4,118.23 1294,117.48 1294.6,119.85 1295.2,119.1 1295.8,117.4 1296.4,117.37 1297,119.02 1297.6,119.71 1298.2,118 1298.8,117.26 1299.4,119.63 1300,118.4 1300.61,117.92 1301.21,117.92 1301.82,117.92 1302.42,117.21 1303.03,117.93 1303.64,117.21 1304.24,118.89 1304.85,119.61 1305.45,117.93 1306.06,117.22 1306.67,118.9 1307.27,119.62 1307.88,118.9 1308.48,118.9 1309.09,117.94 1309.7,117.22 1310.3,117.23 1310.91,119.63 1311.52,117.23 1312.12,117.95 1312.73,118.91 1313.33,117.23 1313.94,117.23 1314.55,117.96 1315.15,117.24 1315.76,117.96 1316.36,117.24 1316.97,117.96 1317.58,117.96 1318.18,119.65 1318.79,118.93 1319.39,117.97 1320,119.65 1320.61,118.93 1321.21,118.93 1321.82,119.65 1322.42,117.26 1323.03,117.98 1323.64,117.98 1324.24,117.98 1324.85,118.94 1325.45,119.66 1326.06,119.67 1326.67,118.95 1327.27,117.27 1327.88,119.67 1328.48,117.27 1329.09,117.27 1329.7,119.67 1330.3,118.96 1330.91,118.96 1331.52,117.28 1332.12,119.68 1332.73,118 1333.33,119.68 1333.94,119.68 1334.55,119.69 1335.15,119.69 1335.76,118.01 1336.36,118.97 1336.97,118.97 1337.58,119.69 1338.18,118.98 1338.79,118.98 1339.39,118.98 1340,118.5 1340.6,117.44 1341.2,117.58 1341.8,120.12 1342.4,120.26 1343,119.68 1343.6,118.86 1344.2,120.68 1344.8,119.14 1345.4,120.96 1346,120.38 1346.6,119.56 1347.2,121.38 1347.8,121.52 1348.4,119.26 1349,119.4 1349.6,121.22 1350.2,119.68 1350.8,121.5 1351.4,119.96 1352,121.78 1352.6,122.64 1353.2,120.38 1353.8,122.2 1354.4,122.34 1355,122 1355.6,123.28 1356.2,122.4 1356.8,123.92 1357.4,124 1358,126 1358.67,125.51 1359.33,122.87 1360,121.9 1360.67,121.65 1361.33,121.65 1362,120.2 1362.62,121.36 1363.24,120.6 1363.86,119.61 1364.48,118.85 1365.1,119.53 1365.71,120.45 1366.33,120.41 1366.95,120.38 1367.57,121.06 1368.19,121.02 1368.81,120.98 1369.43,118.54 1370.05,119.22 1370.67,120.87 1371.29,119.15 1371.9,118.39 1372.52,119.07 1373.14,119.03 1373.76,119 1374.38,120.64 1375,119.4 1375.6,120.51 1376.2,118.74 1376.8,118.65 1377.4,119.52 1378,119.43 1378.6,117.66 1379.2,119.25 1379.8,119.88 1380.4,119.79 1381,118.5 1382.5,134.6 1384,132 1395,132.9 1416,135" fill="none" stroke="#d8853f" stroke-width="1.7" stroke-linejoin="round" stroke-linecap="butt"/>
<polyline points="15.25,198.6 15.5,198 16.25,190.25 17,185.5 17.75,188.15 18.5,193.8 19.25,191.9 20,193 21,197.3 22,195.2 23,204.2 23.67,205.23 24.33,204.47 25,205.5 25.75,200.6 26.5,194.5 27.25,201.35 28,207 28.67,207.73 29.33,208.17 30,211 30.67,206.97 31.33,205.63 32,200.7 32.67,202.2 33.33,201.3 34,200.7 34.67,199.43 35.33,195.77 36,192.4 36.67,195.5 37.33,200.1 38,206.2 38.67,208.2 39.33,210.5 40,210.4 40.67,212.13 41.33,214.17 42,213.8 42.67,214.37 43.33,211.33 44,211 44.67,213.87 45.33,217.33 46,221.4 46.67,221.5 47.33,221.3 48,223.5 48.67,221.07 49.33,220.43 50,218 50.62,217.05 51.25,216.7 51.88,217.55 52.5,216 53.12,217.75 53.75,217.4 54.38,216.15 55,215.2 55.6,215.26 56.2,214.72 56.8,215.08 57.4,212.44 58,212.5 58.67,216.5 59.33,219 60,220 60.6,220.24 61.2,223.18 61.8,223.12 62.4,224.86 63,224.2 63.6,225.08 64.2,226.26 64.8,226.54 65.4,225.92 66,225.6 66.6,227.17 67.2,227.24 67.8,225.21 68.4,226.48 69,225.35 69.6,226.62 70.2,227.59 70.8,226.76 71.4,226.83 72,226.3 72.62,227.8 73.25,226.9 73.88,225.7 74.5,227.8 75.12,226.9 75.75,224.8 76.38,226.9 77,226.3 77.6,225.9 78.2,227.9 78.8,228.1 79.4,229.2 80,231.8 80.67,229.6 81.33,231 82,229.1 82.67,227.5 83.33,227.7 84,227.6 84.6,227.38 85.2,225.36 85.8,224.54 86.4,222.82 87,225 87.6,221.18 88.2,220.36 88.8,221.64 89.4,220.82 90,219.4 90.6,220.86 91.2,222.92 91.8,224.08 92.4,226.14 93,229.7 93.67,228.9 94.33,229.6 95,230.3 95.67,231 96.33,231.7 97,233.9 97.67,235.88 98.33,237.27 99,237.45 99.67,238.83 100.33,240.22 101,242.2 101.6,238.48 102.2,239.26 102.8,234.04 103.4,232.72 104,231.1 104.67,230.03 105.33,228.67 106,228.2 106.67,229.83 107.33,227.27 108,228.3 108.67,232.13 109.33,235.37 110,238 110.67,240.08 111.33,237.67 112,240.35 112.67,241.83 113.33,239.42 114,241.5 114.67,243.48 115.33,245.77 116,245.05 116.67,248.53 117.33,247.82 118,249.8 118.67,245.03 119.33,243.87 120,240 120.67,237.48 121.33,236.47 122,238.45 122.67,235.33 123.33,236.42 124,233.9 124.67,238.6 125.33,240.9 126,243.5 126.67,243.6 127.33,245.5 128,246.2 128.67,246.9 129.33,248.5 130,247.7 130.6,245.48 131.2,245.66 131.8,244.04 132.4,245.42 133,244.1 133.6,245.18 134.2,248.66 134.8,251.24 135.4,253.82 136,257 136.67,252.9 137.33,253.3 138,249.2 138.64,247.87 139.29,246.24 139.93,246.41 140.57,245.69 141.21,247.06 141.86,243.33 142.5,244.1 143.25,250.7 144,256.1 144.67,253.07 145.33,252.43 146,251.5 146.67,254.7 147.33,257.3 148,259.3 148.6,259.6 149.2,257.5 149.8,254.2 150.4,253.9 151,253.3 151.6,254.3 152.2,259.8 152.8,262.3 153.4,262.7 154,265.8 154.6,262.92 155.2,261.54 155.8,261.06 156.4,258.78 157,258.9 157.67,256.78 158.33,256.17 159,256.45 159.67,255.83 160.33,254.32 161,255.2 161.6,256.16 162.2,256.82 162.8,261.38 163.4,262.94 164,263 164.6,262.86 165.2,263.02 165.8,260.18 166.4,259.44 167,259.3 168,269 168.6,269.4 169.2,268.3 169.8,264.2 170.4,263.1 171,263.5 171.6,267.1 172.2,267.1 172.8,268.3 173.4,273.4 174,274 174.6,273.32 175.2,269.94 175.8,268.66 176.4,269.48 177,267.6 177.67,267.27 178.33,266.33 179,265.4 179.67,262.37 180.33,264.43 181,262 181.67,264.2 182.33,267.9 183,273.1 183.6,274.44 184.2,273.98 184.8,273.82 185.4,277.56 186,276.8 186.67,274.23 187.33,276.17 188,275.1 188.67,274.03 189.33,270.87 190,270.4 190.6,271.28 191.2,273.66 191.8,278.14 192.4,278.42 193,282.3 193.67,280.9 194.33,278.9 195,276.3 195.62,274 196.25,274.1 196.88,275.4 197.5,272.5 198.12,270.8 198.75,272.1 199.38,272.2 200,269.9 200.67,274.3 201.33,275.1 202,278.6 202.6,280.4 203.2,282.5 203.8,280.7 204.4,284 205,284.6 205.62,282.59 206.25,282.08 206.88,281.56 207.5,283.15 208.12,283.54 208.75,280.92 209.38,279.51 210,280.5 210.6,280.28 211.2,284.56 211.8,282.84 212.4,287.12 213,286.9 213.62,287.16 214.25,286.82 214.88,287.39 215.5,284.95 216.12,285.81 216.75,285.48 217.38,286.04 218,284.2 218.67,288.43 219.33,291.17 220,292.4 220.6,292.62 221.2,290.44 221.8,290.06 222.4,286.68 223,286 223.67,288.47 224.33,293.63 225,295.2 226,292.9 248,292.9 249,296.6 250,294.7 260,295.7 340,299.4 420,304 493,308.6 627.2,308.8 627.6,593.7 784.7,308.8 884,310 884.5,257.4 886,278 888,268.5 889,310 902,310 903,310 915,608 915.3,260.3 921,260" fill="none" stroke="#4a94a6" stroke-width="1.9" stroke-linejoin="round" stroke-linecap="butt"/>
<polyline points="921,260 922,269.5 923,170.7 924,265 925,184.5 925.6,262.6 926.5,262.6 927.5,159.2 928.1,212 929,212 930,163.8 930.6,219 931.5,219 932.1,271.8 933,271.8 934,212 934.6,219 936,219 936.6,166 937.5,166 938.1,237.4 939,237.4 940,173 940.6,268.4 941.5,268.4 942.1,269.5 947,269.5 948,251 949,274 949.6,274 953,274 954,190 954.6,171.8 956,171.8 956.6,175.3 958,175.3 959,265 960,182 960.6,278.7 962,278.7 962.6,283 963.5,283 964.1,181 965,181 965.6,258 966.5,258 967.5,281 968.1,180 969,180 970,285.6 970.6,288 977,288 978,278.7 979,288 979.6,225.9 983.5,225.9 984.1,292.5 985,292.5 985.6,285.6 986.5,285.6 987.1,200.6 988,200.6 988.6,200.6 990.5,200.6 991.1,205 992,205 993,288 994,214.4 994.6,292.5 995.5,292.5 996.1,216.7 997,216.7 997.6,297 998.5,297 999.1,297 1000,297 1001,203 1002,299.5 1002.6,302 1005,302 1005.6,293 1006.5,293 1007.1,303 1008,303 1008.6,304.7 1010,304.7 1010.6,229 1011.5,229 1012.1,213.5 1013,213.5 1013.6,214.8 1016,214.8 1017,312.6 1017.6,224 1018.5,224 1019.5,294.3 1020.1,231.7 1021,231.7 1021.6,276 1022.5,276 1023.5,231.7 1024.1,310 1025,310 1025.6,325.6 1027,325.6 1027.6,325.6 1032,325.6 1033,237 1033.6,237 1035.5,237 1036.5,286.5 1037.5,250 1038.1,330.8 1039,330.8 1039.6,250 1040.5,250 1041.1,304.7 1042,304.7 1043,255 1044,330.8 1044.6,276 1045.5,276 1046.1,242 1047,242 1047.6,307.3 1048.5,307.3 1049.1,330.8 1050,330.8 1050.6,320.4 1052,320.4 1053,336 1053.6,336 1057,336 1058,263 1058.6,250 1060,250 1060.6,260.4 1062,260.4 1063,294.3 1064,307.3 1064.6,299.5 1065.5,299.5 1066.5,341.2 1067.1,294.3 1068,294.3 1068.6,273.4 1069.5,273.4 1070.1,336 1071,336 1071.6,276 1072.5,276 1073.1,270.8 1074,270.8 1074.6,338.6 1075.5,338.6 1076.1,333.4 1079,333.4 1080,289 1080.6,278.7 1083,278.7 1083.6,281.3 1085,281.3 1086,325.6 1086.6,294.3 1087.5,294.3 1088.1,341.2 1089,341.2 1090,294.3 1090.6,346.5 1092,346.5 1092.6,286.5 1094,286.5 1094.6,325.6 1095.5,325.6 1096.1,351.7 1097,351.7 1097.6,346.5 1100,346.5 1101,320.4 1101.6,299.5 1103,299.5 1103.6,296.3 1105,296.3 1106,297 1106.6,345.3 1108,345.3 1108.6,311.8 1109.5,311.8 1110.1,338.4 1111,338.4 1111.6,311 1113,311 1113.6,348.7 1114.5,348.7 1115.1,353.9 1117,353.9 1117.6,352.2 1120,352.2 1121,317 1121.6,352.2 1122.5,352.2 1123.1,347.9 1124,347.9 1124.6,355.6 1126,355.6 1126.6,347.9 1127.6,347.9 1128.2,347.9 1139.7,347.9 1140.5,360 1141.1,360 1143,360 1144,323.8 1144.6,352.2 1146,352.2 1146.6,329.8 1147.5,329.8 1148.1,355.6 1149,355.6 1149.6,345.3 1151,345.3 1151.6,352.2 1153,352.2 1153.6,358.2 1157,358.2 1158,331.5 1158.6,324.7 1160,324.7 1160.6,367.6 1162,367.6 1162.6,347 1164,347 1164.6,367.6 1165.5,367.6 1166.1,338.4 1167,338.4 1167.6,362.5 1168.5,362.5 1169.1,323.8 1171,323.8 1171.6,360.8 1172.5,360.8 1173.1,373.6 1176,373.6 1176.6,357.3 1177.5,357.3 1178.1,367.6 1179,367.6 1179.6,369.3 1182,369.3 1183,347 1183.6,329.8 1186,329.8 1186.6,376.2 1188,376.2 1188.6,343.6 1189.5,343.6 1190.1,376.2 1191,376.2 1191.6,340.1 1193,340.1 1193.6,381.4 1195,381.4 1195.6,335 1196.5,335 1197.1,373.6 1198,373.6 1198.6,373.6 1201,373.6 1202,369.3 1203.5,373" fill="none" stroke="#4a94a6" stroke-width="1.65" stroke-linejoin="round" stroke-linecap="butt"/>
<polyline points="1203.5,373 1204.8,110.4 1207,110.4 1208,115.3 1209,110.4 1209.6,116 1212,116 1213,110.4 1213.6,110.4 1222.5,110.4 1223,127.6 1224,110.4 1224.6,110.4 1232.5,110.4 1233,120 1234,110.4 1234.6,110.4 1235.5,110.4 1236,124.5 1237,110.4 1237.6,110.4 1243.5,110.4 1244,143 1245,110.4 1245.6,110.4 1247.5,110.4 1248,120 1249,110.4 1249.6,110.4 1252,110.4 1253,135.3 1253.6,136.8 1256,136.8 1256.6,117.6 1258,117.6 1259,117.6 1260,144.5 1260.6,144.5 1263,144.5 1264,110.4 1264.6,110.4 1270,110.4 1270.6,146 1272,146 1273,110.4 1273.6,149 1274.5,149 1275.1,110.4 1276,110.4 1277,150.6 1277.6,110.4 1279,110.4 1279.6,153.7 1281,153.7 1281.6,155.2 1284,155.2 1285,139.9 1285.6,156.7 1286.5,156.7 1287.1,156.7 1289,156.7 1290,110.4 1290.6,110.4 1296,110.4 1296.5,138.8 1297.1,110.4 1298,110.4 1298.6,145.5 1300,145.5 1300.6,110.4 1302,110.4 1302.6,145.5 1304,145.5 1304.6,110.4 1306,110.4 1307,169.1 1307.6,169.1 1311,169.1 1311.6,113.5 1313,113.5 1313.6,110.4 1315,110.4 1315.6,167.5 1317,167.5 1318,167.5 1318.6,110.4 1319.5,110.4 1320.1,157.3 1321,157.3 1321.6,110.4 1323,110.4 1323.6,149 1325,149 1325.6,110.4 1327,110.4 1327.6,142.2 1329,142.2 1329.6,159 1332,159 1332.6,177.6 1334,177.6 1334.6,127 1336,127 1336.6,110.4 1338,110.4 1338.6,110.4 1340,110.4 1340.6,150.6 1342,150.6 1342.6,115 1343.5,115 1344.1,164 1345,164 1345.6,122 1347,122 1347.6,159 1349,159 1350,110.4 1350.6,152.3 1352,152.3 1353,170.8 1353.6,187.7 1355,187.7 1355.6,189.4 1358,189.4 1359,149 1359.6,133.7 1361,133.7 1361.6,110.4 1363,110.4 1363.6,120.2 1365,120.2 1366,162.4 1367,120.2 1367.6,165.8 1369,165.8 1370,128.7 1370.6,192.7 1372,192.7 1372.6,127 1374,127 1374.6,192.7 1375.5,192.7 1376.1,162.4 1377,162.4 1377.6,194.4 1378.5,194.4 1379.1,197 1380,197 1380.6,197.8 1382.5,197.8 1384.3,198 1384.3,398 1416,290.5" fill="none" stroke="#4a94a6" stroke-width="1.65" stroke-linejoin="round" stroke-linecap="butt"/>
<g transform="translate(610,3)"><rect x="0.6" y="0.6" width="17.8" height="17.8" fill="#fbfefb" stroke="#2f842f" stroke-width="1.1"/><rect x="3.9" y="3.0" width="7.7" height="12.5" fill="#1f9e1f"/><rect x="2.8" y="14.1" width="9.2" height="1.5" fill="#1f9e1f"/><rect x="5.65" y="4.95" width="4.25" height="2.85" fill="#fbfefb"/><path d="M13.9 3.2 L15.1 4.4 V14.9 H12.2 M15 7.3 H13.2 V12.2 H15" fill="none" stroke="#1f9e1f" stroke-width="1.2"/></g>
<text x="636.4" y="17.2" font-size="10.5" text-anchor="start" textLength="98.6" lengthAdjust="spacingAndGlyphs">Заправки Топливо</text>
<g transform="translate(745,3)"><rect x="0.6" y="0.6" width="17.8" height="17.8" fill="#fff8fb" stroke="#bd3560" stroke-width="1.1"/><path d="M3.9 7.4 L5.6 5.7 H8.1 V3.0 H14.66 V14.9 Q14.66 15.7 13.9 15.7 H4.7 Q3.9 15.7 3.9 14.9 Z" fill="#f01e55"/><path d="M9.2 4.1 H13.7 V5.9 L9.2 5.6 Z" fill="#fff8fb"/><rect x="3.9" y="5.0" width="1.6" height="1.6" fill="#f01e55"/></g>
<text x="771.3" y="17.2" font-size="10.5" text-anchor="start" textLength="82.6" lengthAdjust="spacingAndGlyphs">Сливы Топливо</text>
<rect x="566.2" y="34.2" width="50.6" height="10.5" fill="#d9ebf9"/>
<text x="621.4" y="44.2" font-size="10.5" text-anchor="start" textLength="56.9" lengthAdjust="spacingAndGlyphs">Остановки</text>
<rect x="688.8" y="34.2" width="51" height="10.5" fill="#fcd4c5"/>
<text x="744.7" y="44.2" font-size="10.5" text-anchor="start" textLength="43.8" lengthAdjust="spacingAndGlyphs">Поездки</text>
<rect x="799.1" y="34.2" width="50.6" height="10.5" fill="#fdedbf"/>
<text x="854.2" y="44.2" font-size="10.5" text-anchor="start" textLength="44" lengthAdjust="spacingAndGlyphs">Стоянки</text>
<rect x="593" y="58" width="49.8" height="2" fill="#cf9668"/>
<text x="648.7" y="63.6" font-size="10.5" text-anchor="start" textLength="67.3" lengthAdjust="spacingAndGlyphs">Напряжение</text>
<rect x="726.4" y="57.6" width="49.4" height="2" fill="#6aa1b0"/>
<text x="781" y="63.6" font-size="10.5" text-anchor="start" textLength="90.8" lengthAdjust="spacingAndGlyphs">Уровень топлива</text>
<g transform="translate(918.05,74.1)"><rect x="0.6" y="0.6" width="17.8" height="17.8" fill="#fbfefb" stroke="#2f842f" stroke-width="1.1"/><rect x="3.9" y="3.0" width="7.7" height="12.5" fill="#1f9e1f"/><rect x="2.8" y="14.1" width="9.2" height="1.5" fill="#1f9e1f"/><rect x="5.65" y="4.95" width="4.25" height="2.85" fill="#fbfefb"/><path d="M13.9 3.2 L15.1 4.4 V14.9 H12.2 M15 7.3 H13.2 V12.2 H15" fill="none" stroke="#1f9e1f" stroke-width="1.2"/></g>
<g transform="translate(979.9,74.1)"><rect x="0.6" y="0.6" width="17.8" height="17.8" fill="#fbfefb" stroke="#2f842f" stroke-width="1.1"/><rect x="3.9" y="3.0" width="7.7" height="12.5" fill="#1f9e1f"/><rect x="2.8" y="14.1" width="9.2" height="1.5" fill="#1f9e1f"/><rect x="5.65" y="4.95" width="4.25" height="2.85" fill="#fbfefb"/><path d="M13.9 3.2 L15.1 4.4 V14.9 H12.2 M15 7.3 H13.2 V12.2 H15" fill="none" stroke="#1f9e1f" stroke-width="1.2"/></g>
<g transform="translate(1048,74.1)"><rect x="0.6" y="0.6" width="17.8" height="17.8" fill="#fbfefb" stroke="#2f842f" stroke-width="1.1"/><rect x="3.9" y="3.0" width="7.7" height="12.5" fill="#1f9e1f"/><rect x="2.8" y="14.1" width="9.2" height="1.5" fill="#1f9e1f"/><rect x="5.65" y="4.95" width="4.25" height="2.85" fill="#fbfefb"/><path d="M13.9 3.2 L15.1 4.4 V14.9 H12.2 M15 7.3 H13.2 V12.2 H15" fill="none" stroke="#1f9e1f" stroke-width="1.2"/></g>
<g transform="translate(1077.2,74.1)"><rect x="0.6" y="0.6" width="17.8" height="17.8" fill="#fbfefb" stroke="#2f842f" stroke-width="1.1"/><rect x="3.9" y="3.0" width="7.7" height="12.5" fill="#1f9e1f"/><rect x="2.8" y="14.1" width="9.2" height="1.5" fill="#1f9e1f"/><rect x="5.65" y="4.95" width="4.25" height="2.85" fill="#fbfefb"/><path d="M13.9 3.2 L15.1 4.4 V14.9 H12.2 M15 7.3 H13.2 V12.2 H15" fill="none" stroke="#1f9e1f" stroke-width="1.2"/></g>
<g transform="translate(1193.1,74.1)"><rect x="0.6" y="0.6" width="17.8" height="17.8" fill="#fbfefb" stroke="#2f842f" stroke-width="1.1"/><rect x="3.9" y="3.0" width="7.7" height="12.5" fill="#1f9e1f"/><rect x="2.8" y="14.1" width="9.2" height="1.5" fill="#1f9e1f"/><rect x="5.65" y="4.95" width="4.25" height="2.85" fill="#fbfefb"/><path d="M13.9 3.2 L15.1 4.4 V14.9 H12.2 M15 7.3 H13.2 V12.2 H15" fill="none" stroke="#1f9e1f" stroke-width="1.2"/></g>
<g transform="translate(1251.5,74.1)"><rect x="0.6" y="0.6" width="17.8" height="17.8" fill="#fbfefb" stroke="#2f842f" stroke-width="1.1"/><rect x="3.9" y="3.0" width="7.7" height="12.5" fill="#1f9e1f"/><rect x="2.8" y="14.1" width="9.2" height="1.5" fill="#1f9e1f"/><rect x="5.65" y="4.95" width="4.25" height="2.85" fill="#fbfefb"/><path d="M13.9 3.2 L15.1 4.4 V14.9 H12.2 M15 7.3 H13.2 V12.2 H15" fill="none" stroke="#1f9e1f" stroke-width="1.2"/></g>
<g transform="translate(930.3,74.1)"><rect x="0.6" y="0.6" width="17.8" height="17.8" fill="#fff8fb" stroke="#bd3560" stroke-width="1.1"/><path d="M3.9 7.4 L5.6 5.7 H8.1 V3.0 H14.66 V14.9 Q14.66 15.7 13.9 15.7 H4.7 Q3.9 15.7 3.9 14.9 Z" fill="#f01e55"/><path d="M9.2 4.1 H13.7 V5.9 L9.2 5.6 Z" fill="#fff8fb"/><rect x="3.9" y="5.0" width="1.6" height="1.6" fill="#f01e55"/></g>
<g transform="translate(942.2,74.1)"><rect x="0.6" y="0.6" width="17.8" height="17.8" fill="#fff8fb" stroke="#bd3560" stroke-width="1.1"/><path d="M3.9 7.4 L5.6 5.7 H8.1 V3.0 H14.66 V14.9 Q14.66 15.7 13.9 15.7 H4.7 Q3.9 15.7 3.9 14.9 Z" fill="#f01e55"/><path d="M9.2 4.1 H13.7 V5.9 L9.2 5.6 Z" fill="#fff8fb"/><rect x="3.9" y="5.0" width="1.6" height="1.6" fill="#f01e55"/></g>
<g transform="translate(961.3,74.1)"><rect x="0.6" y="0.6" width="17.8" height="17.8" fill="#fff8fb" stroke="#bd3560" stroke-width="1.1"/><path d="M3.9 7.4 L5.6 5.7 H8.1 V3.0 H14.66 V14.9 Q14.66 15.7 13.9 15.7 H4.7 Q3.9 15.7 3.9 14.9 Z" fill="#f01e55"/><path d="M9.2 4.1 H13.7 V5.9 L9.2 5.6 Z" fill="#fff8fb"/><rect x="3.9" y="5.0" width="1.6" height="1.6" fill="#f01e55"/></g>
<g transform="translate(992.2,74.1)"><rect x="0.6" y="0.6" width="17.8" height="17.8" fill="#fff8fb" stroke="#bd3560" stroke-width="1.1"/><path d="M3.9 7.4 L5.6 5.7 H8.1 V3.0 H14.66 V14.9 Q14.66 15.7 13.9 15.7 H4.7 Q3.9 15.7 3.9 14.9 Z" fill="#f01e55"/><path d="M9.2 4.1 H13.7 V5.9 L9.2 5.6 Z" fill="#fff8fb"/><rect x="3.9" y="5.0" width="1.6" height="1.6" fill="#f01e55"/></g>
<g transform="translate(1021,74.1)"><rect x="0.6" y="0.6" width="17.8" height="17.8" fill="#fff8fb" stroke="#bd3560" stroke-width="1.1"/><path d="M3.9 7.4 L5.6 5.7 H8.1 V3.0 H14.66 V14.9 Q14.66 15.7 13.9 15.7 H4.7 Q3.9 15.7 3.9 14.9 Z" fill="#f01e55"/><path d="M9.2 4.1 H13.7 V5.9 L9.2 5.6 Z" fill="#fff8fb"/><rect x="3.9" y="5.0" width="1.6" height="1.6" fill="#f01e55"/></g>
<g transform="translate(1039.4,74.1)"><rect x="0.6" y="0.6" width="17.8" height="17.8" fill="#fff8fb" stroke="#bd3560" stroke-width="1.1"/><path d="M3.9 7.4 L5.6 5.7 H8.1 V3.0 H14.66 V14.9 Q14.66 15.7 13.9 15.7 H4.7 Q3.9 15.7 3.9 14.9 Z" fill="#f01e55"/><path d="M9.2 4.1 H13.7 V5.9 L9.2 5.6 Z" fill="#fff8fb"/><rect x="3.9" y="5.0" width="1.6" height="1.6" fill="#f01e55"/></g>
<g transform="translate(1104,74.1)"><rect x="0.6" y="0.6" width="17.8" height="17.8" fill="#fff8fb" stroke="#bd3560" stroke-width="1.1"/><path d="M3.9 7.4 L5.6 5.7 H8.1 V3.0 H14.66 V14.9 Q14.66 15.7 13.9 15.7 H4.7 Q3.9 15.7 3.9 14.9 Z" fill="#f01e55"/><path d="M9.2 4.1 H13.7 V5.9 L9.2 5.6 Z" fill="#fff8fb"/><rect x="3.9" y="5.0" width="1.6" height="1.6" fill="#f01e55"/></g>
<g transform="translate(1128.1,74.1)"><rect x="0.6" y="0.6" width="17.8" height="17.8" fill="#fff8fb" stroke="#bd3560" stroke-width="1.1"/><path d="M3.9 7.4 L5.6 5.7 H8.1 V3.0 H14.66 V14.9 Q14.66 15.7 13.9 15.7 H4.7 Q3.9 15.7 3.9 14.9 Z" fill="#f01e55"/><path d="M9.2 4.1 H13.7 V5.9 L9.2 5.6 Z" fill="#fff8fb"/><rect x="3.9" y="5.0" width="1.6" height="1.6" fill="#f01e55"/></g>
<g transform="translate(1142.4,74.1)"><rect x="0.6" y="0.6" width="17.8" height="17.8" fill="#fff8fb" stroke="#bd3560" stroke-width="1.1"/><path d="M3.9 7.4 L5.6 5.7 H8.1 V3.0 H14.66 V14.9 Q14.66 15.7 13.9 15.7 H4.7 Q3.9 15.7 3.9 14.9 Z" fill="#f01e55"/><path d="M9.2 4.1 H13.7 V5.9 L9.2 5.6 Z" fill="#fff8fb"/><rect x="3.9" y="5.0" width="1.6" height="1.6" fill="#f01e55"/></g>
<g transform="translate(1226.2,74.1)"><rect x="0.6" y="0.6" width="17.8" height="17.8" fill="#fff8fb" stroke="#bd3560" stroke-width="1.1"/><path d="M3.9 7.4 L5.6 5.7 H8.1 V3.0 H14.66 V14.9 Q14.66 15.7 13.9 15.7 H4.7 Q3.9 15.7 3.9 14.9 Z" fill="#f01e55"/><path d="M9.2 4.1 H13.7 V5.9 L9.2 5.6 Z" fill="#fff8fb"/><rect x="3.9" y="5.0" width="1.6" height="1.6" fill="#f01e55"/></g>
<g transform="translate(1243.5,74.1)"><rect x="0.6" y="0.6" width="17.8" height="17.8" fill="#fff8fb" stroke="#bd3560" stroke-width="1.1"/><path d="M3.9 7.4 L5.6 5.7 H8.1 V3.0 H14.66 V14.9 Q14.66 15.7 13.9 15.7 H4.7 Q3.9 15.7 3.9 14.9 Z" fill="#f01e55"/><path d="M9.2 4.1 H13.7 V5.9 L9.2 5.6 Z" fill="#fff8fb"/><rect x="3.9" y="5.0" width="1.6" height="1.6" fill="#f01e55"/></g>
<g transform="translate(1270.3,74.1)"><rect x="0.6" y="0.6" width="17.8" height="17.8" fill="#fff8fb" stroke="#bd3560" stroke-width="1.1"/><path d="M3.9 7.4 L5.6 5.7 H8.1 V3.0 H14.66 V14.9 Q14.66 15.7 13.9 15.7 H4.7 Q3.9 15.7 3.9 14.9 Z" fill="#f01e55"/><path d="M9.2 4.1 H13.7 V5.9 L9.2 5.6 Z" fill="#fff8fb"/><rect x="3.9" y="5.0" width="1.6" height="1.6" fill="#f01e55"/></g>
<g transform="translate(1299.1,74.1)"><rect x="0.6" y="0.6" width="17.8" height="17.8" fill="#fff8fb" stroke="#bd3560" stroke-width="1.1"/><path d="M3.9 7.4 L5.6 5.7 H8.1 V3.0 H14.66 V14.9 Q14.66 15.7 13.9 15.7 H4.7 Q3.9 15.7 3.9 14.9 Z" fill="#f01e55"/><path d="M9.2 4.1 H13.7 V5.9 L9.2 5.6 Z" fill="#fff8fb"/><rect x="3.9" y="5.0" width="1.6" height="1.6" fill="#f01e55"/></g>
<g transform="translate(1319.2,74.1)"><rect x="0.6" y="0.6" width="17.8" height="17.8" fill="#fff8fb" stroke="#bd3560" stroke-width="1.1"/><path d="M3.9 7.4 L5.6 5.7 H8.1 V3.0 H14.66 V14.9 Q14.66 15.7 13.9 15.7 H4.7 Q3.9 15.7 3.9 14.9 Z" fill="#f01e55"/><path d="M9.2 4.1 H13.7 V5.9 L9.2 5.6 Z" fill="#fff8fb"/><rect x="3.9" y="5.0" width="1.6" height="1.6" fill="#f01e55"/></g>
<g transform="translate(1341.2,74.1)"><rect x="0.6" y="0.6" width="17.8" height="17.8" fill="#fff8fb" stroke="#bd3560" stroke-width="1.1"/><path d="M3.9 7.4 L5.6 5.7 H8.1 V3.0 H14.66 V14.9 Q14.66 15.7 13.9 15.7 H4.7 Q3.9 15.7 3.9 14.9 Z" fill="#f01e55"/><path d="M9.2 4.1 H13.7 V5.9 L9.2 5.6 Z" fill="#fff8fb"/><rect x="3.9" y="5.0" width="1.6" height="1.6" fill="#f01e55"/></g>
<g transform="translate(1368.2,74.1)"><rect x="0.6" y="0.6" width="17.8" height="17.8" fill="#fff8fb" stroke="#bd3560" stroke-width="1.1"/><path d="M3.9 7.4 L5.6 5.7 H8.1 V3.0 H14.66 V14.9 Q14.66 15.7 13.9 15.7 H4.7 Q3.9 15.7 3.9 14.9 Z" fill="#f01e55"/><path d="M9.2 4.1 H13.7 V5.9 L9.2 5.6 Z" fill="#fff8fb"/><rect x="3.9" y="5.0" width="1.6" height="1.6" fill="#f01e55"/></g>
<text x="0.6" y="597.52" font-size="10.5" text-anchor="start" textLength="6.4" lengthAdjust="spacingAndGlyphs">1</text>
<text x="0.6" y="579.25" font-size="10.5" text-anchor="start" textLength="6.4" lengthAdjust="spacingAndGlyphs">2</text>
<text x="0.6" y="560.99" font-size="10.5" text-anchor="start" textLength="6.4" lengthAdjust="spacingAndGlyphs">3</text>
<text x="0.6" y="542.72" font-size="10.5" text-anchor="start" textLength="6.4" lengthAdjust="spacingAndGlyphs">4</text>
<text x="0.6" y="524.46" font-size="10.5" text-anchor="start" textLength="6.4" lengthAdjust="spacingAndGlyphs">5</text>
<text x="0.6" y="506.2" font-size="10.5" text-anchor="start" textLength="6.4" lengthAdjust="spacingAndGlyphs">6</text>
<text x="0.6" y="487.93" font-size="10.5" text-anchor="start" textLength="6.4" lengthAdjust="spacingAndGlyphs">7</text>
<text x="0.6" y="469.67" font-size="10.5" text-anchor="start" textLength="6.4" lengthAdjust="spacingAndGlyphs">8</text>
<text x="0.6" y="451.4" font-size="10.5" text-anchor="start" textLength="6.4" lengthAdjust="spacingAndGlyphs">9</text>
<text x="0.6" y="433.14" font-size="10.5" text-anchor="start" textLength="6.4" lengthAdjust="spacingAndGlyphs">0</text>
<text x="0.6" y="414.88" font-size="10.5" text-anchor="start" textLength="6.4" lengthAdjust="spacingAndGlyphs">1</text>
<text x="0.6" y="396.61" font-size="10.5" text-anchor="start" textLength="6.4" lengthAdjust="spacingAndGlyphs">2</text>
<text x="0.6" y="378.35" font-size="10.5" text-anchor="start" textLength="6.4" lengthAdjust="spacingAndGlyphs">3</text>
<text x="0.6" y="360.08" font-size="10.5" text-anchor="start" textLength="6.4" lengthAdjust="spacingAndGlyphs">4</text>
<text x="0.6" y="341.82" font-size="10.5" text-anchor="start" textLength="6.4" lengthAdjust="spacingAndGlyphs">5</text>
<text x="0.6" y="323.56" font-size="10.5" text-anchor="start" textLength="6.4" lengthAdjust="spacingAndGlyphs">6</text>
<text x="0.6" y="305.29" font-size="10.5" text-anchor="start" textLength="6.4" lengthAdjust="spacingAndGlyphs">7</text>
<text x="0.6" y="287.03" font-size="10.5" text-anchor="start" textLength="6.4" lengthAdjust="spacingAndGlyphs">8</text>
<text x="0.6" y="268.76" font-size="10.5" text-anchor="start" textLength="6.4" lengthAdjust="spacingAndGlyphs">9</text>
<text x="0.6" y="250.5" font-size="10.5" text-anchor="start" textLength="6.4" lengthAdjust="spacingAndGlyphs">0</text>
<text x="0.6" y="232.24" font-size="10.5" text-anchor="start" textLength="6.4" lengthAdjust="spacingAndGlyphs">1</text>
<text x="0.6" y="213.97" font-size="10.5" text-anchor="start" textLength="6.4" lengthAdjust="spacingAndGlyphs">2</text>
<text x="0.6" y="195.71" font-size="10.5" text-anchor="start" textLength="6.4" lengthAdjust="spacingAndGlyphs">3</text>
<text x="0.6" y="177.44" font-size="10.5" text-anchor="start" textLength="6.4" lengthAdjust="spacingAndGlyphs">4</text>
<text x="0.6" y="159.18" font-size="10.5" text-anchor="start" textLength="6.4" lengthAdjust="spacingAndGlyphs">5</text>
<text x="0.6" y="140.92" font-size="10.5" text-anchor="start" textLength="6.4" lengthAdjust="spacingAndGlyphs">6</text>
<text x="0.6" y="122.65" font-size="10.5" text-anchor="start" textLength="6.4" lengthAdjust="spacingAndGlyphs">7</text>
<text x="1412.5" y="607.6" font-size="10.5" text-anchor="start">В</text>
<text x="84.25" y="627.9" font-size="10.5" text-anchor="middle" textLength="60.1" lengthAdjust="spacingAndGlyphs">2021-11-11</text>
<text x="84.25" y="638.7" font-size="10.5" text-anchor="middle" textLength="46.2" lengthAdjust="spacingAndGlyphs">01:00:00</text>
<text x="227.55" y="627.9" font-size="10.5" text-anchor="middle" textLength="60.1" lengthAdjust="spacingAndGlyphs">2021-11-11</text>
<text x="227.55" y="638.7" font-size="10.5" text-anchor="middle" textLength="46.2" lengthAdjust="spacingAndGlyphs">03:00:00</text>
<text x="370.85" y="627.9" font-size="10.5" text-anchor="middle" textLength="60.1" lengthAdjust="spacingAndGlyphs">2021-11-11</text>
<text x="370.85" y="638.7" font-size="10.5" text-anchor="middle" textLength="46.2" lengthAdjust="spacingAndGlyphs">05:00:00</text>
<text x="514.15" y="627.9" font-size="10.5" text-anchor="middle" textLength="60.1" lengthAdjust="spacingAndGlyphs">2021-11-11</text>
<text x="514.15" y="638.7" font-size="10.5" text-anchor="middle" textLength="46.2" lengthAdjust="spacingAndGlyphs">07:00:00</text>
<text x="657.45" y="627.9" font-size="10.5" text-anchor="middle" textLength="60.1" lengthAdjust="spacingAndGlyphs">2021-11-11</text>
<text x="657.45" y="638.7" font-size="10.5" text-anchor="middle" textLength="46.2" lengthAdjust="spacingAndGlyphs">09:00:00</text>
<text x="800.75" y="627.9" font-size="10.5" text-anchor="middle" textLength="60.1" lengthAdjust="spacingAndGlyphs">2021-11-11</text>
<text x="800.75" y="638.7" font-size="10.5" text-anchor="middle" textLength="46.2" lengthAdjust="spacingAndGlyphs">11:00:00</text>
<text x="944.05" y="627.9" font-size="10.5" text-anchor="middle" textLength="60.1" lengthAdjust="spacingAndGlyphs">2021-11-11</text>
<text x="944.05" y="638.7" font-size="10.5" text-anchor="middle" textLength="46.2" lengthAdjust="spacingAndGlyphs">13:00:00</text>
<text x="1087.35" y="627.9" font-size="10.5" text-anchor="middle" textLength="60.1" lengthAdjust="spacingAndGlyphs">2021-11-11</text>
<text x="1087.35" y="638.7" font-size="10.5" text-anchor="middle" textLength="46.2" lengthAdjust="spacingAndGlyphs">15:00:00</text>
<text x="1230.65" y="627.9" font-size="10.5" text-anchor="middle" textLength="60.1" lengthAdjust="spacingAndGlyphs">2021-11-11</text>
<text x="1230.65" y="638.7" font-size="10.5" text-anchor="middle" textLength="46.2" lengthAdjust="spacingAndGlyphs">17:00:00</text>
<text x="1373.95" y="627.9" font-size="10.5" text-anchor="middle" textLength="60.1" lengthAdjust="spacingAndGlyphs">2021-11-11</text>
<text x="1373.95" y="638.7" font-size="10.5" text-anchor="middle" textLength="46.2" lengthAdjust="spacingAndGlyphs">19:00:00</text>
<rect x="0" y="0" width="1" height="650" fill="#aaa6fe"/><rect x="1" y="0" width="0.9" height="650" fill="#a4a2e6"/>
<rect x="0" y="649.8" width="1416" height="2.2" fill="#7a7a7a"/></svg>
</body></html>
